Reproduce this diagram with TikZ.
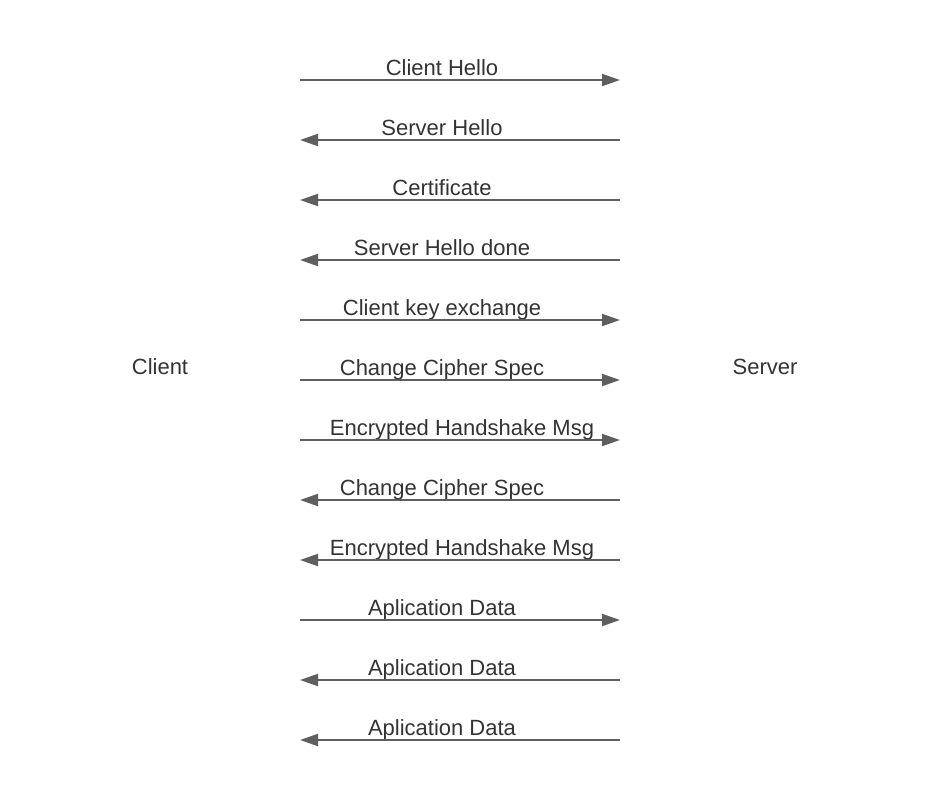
\documentclass[tikz,border=0pt]{standalone}
\usepackage{fontspec}
\setmainfont{Liberation Sans}
\usetikzlibrary{arrows.meta}
\definecolor{msgline}{HTML}{5F5F5F}
\definecolor{msgtext}{HTML}{333333}
\tikzset{
  msg/.style={draw=msgline, line width=1.5pt,
    -{Triangle[length=13.5pt,width=9pt]}},
  msglabel/.style={text=msgtext, inner sep=0pt, anchor=base},
  party/.style={text=msgtext, inner sep=0pt}
}
\begin{document}
\begin{tikzpicture}[x=0.75pt,y=-0.75pt,font=\fontsize{16.5}{19}\selectfont]
            \useasboundingbox (0,0) rectangle (925,800);
            
            % The two parties
            \node [party] (client) at (160,367) {Client};
            \node [party] (server) at (765,367) {Server};
            
            % Messages: row / label x / direction (r = to server, l = to client) / text
            \foreach \row/\lx/\dir/\txt [count=\i] in {
                80/442/r/Client Hello,
                140/442/l/Server Hello,
                200/442/l/Certificate,
                260/442/l/Server Hello done,
                320/442/r/Client key exchange,
                380/442/r/Change Cipher Spec,
                440/462/r/Encrypted Handshake Msg,
                500/442/l/Change Cipher Spec,
                560/462/l/Encrypted Handshake Msg,
                620/442/r/Aplication Data,
                680/442/l/Aplication Data,
                740/442/l/Aplication Data}
            {
                \coordinate (c\i) at (300,\row);
                \coordinate (s\i) at (620,\row);
                \node [msglabel] (m\i) at (\lx,\row-5) {\txt};
                \if r\dir
                    \draw [msg] (c\i) -- (s\i);
                \else
                    \draw [msg] (s\i) -- (c\i);
                \fi
            }
        \end{tikzpicture}
\end{document}
